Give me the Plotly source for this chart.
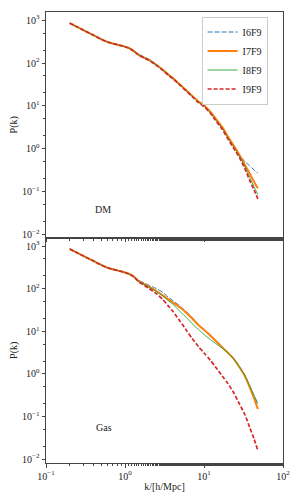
import plotly.graph_objects as go
from plotly.subplots import make_subplots

k = [0.2, 0.25, 0.3, 0.4, 0.5, 0.6, 0.7, 0.85, 1.0, 1.15, 1.3, 1.5, 1.75, 2.0, 2.5, 3.0,
     3.5, 4.0, 5.0, 6.0, 7.0, 8.5, 10, 12, 14, 17, 20, 24, 28, 33, 38, 43, 48]

dm_I6F9 = [850, 690, 580, 445, 360, 310, 285, 260, 240, 218, 192, 160, 139, 124, 94, 72,
           56, 45, 31, 23, 17.5, 12.5, 10, 7.0, 4.9, 3.0, 1.85, 1.1, 0.72, 0.5, 0.4, 0.32, 0.27]
dm_I7F9 = [850, 690, 580, 445, 360, 310, 285, 260, 240, 218, 188, 154, 133, 118, 90, 70,
           55, 45, 31, 23, 17.6, 12.7, 10.3, 7.3, 5.1, 3.2, 1.95, 1.15, 0.72, 0.42, 0.26, 0.17, 0.12]
dm_I8F9 = [850, 690, 580, 445, 360, 310, 285, 260, 240, 218, 188, 153, 132, 117, 89, 69,
           54, 44, 30.5, 22.5, 17.2, 12.3, 9.9, 7.0, 4.8, 3.0, 1.82, 1.07, 0.68, 0.38, 0.21, 0.13, 0.085]
dm_I9F9 = [850, 690, 580, 445, 360, 310, 285, 260, 240, 218, 187, 152, 131, 116, 88, 68,
           53, 43.5, 30, 22, 16.8, 12.0, 9.6, 6.8, 4.6, 2.85, 1.72, 1.0, 0.63, 0.34, 0.18, 0.11, 0.068]

gas_I6F9 = [850, 690, 580, 445, 360, 310, 285, 260, 240, 218, 192, 156, 136, 121, 100, 82,
            64, 53, 38.5, 28.5, 21.5, 14.5, 11.0, 8.2, 6.2, 4.3, 3.3, 2.25, 1.5, 0.92, 0.52, 0.31, 0.2]
gas_I7F9 = [850, 690, 580, 445, 360, 310, 285, 260, 240, 218, 190, 148, 128, 112, 88, 70,
            57, 48, 36, 27, 20.5, 14, 10.8, 8.0, 6.0, 4.2, 3.15, 2.2, 1.45, 0.88, 0.48, 0.27, 0.15]
gas_I8F9 = [850, 690, 580, 445, 360, 310, 285, 260, 240, 218, 190, 147, 126, 110, 85, 67,
            53, 44, 29, 21, 15.5, 11, 8.4, 6.4, 5.2, 4.0, 3.1, 2.2, 1.47, 0.92, 0.52, 0.31, 0.2]
gas_I9F9 = [850, 690, 580, 445, 360, 310, 285, 260, 240, 218, 188, 144, 120, 102, 76, 56,
            40, 30, 17, 10.5, 7.0, 4.4, 3.1, 2.1, 1.45, 0.9, 0.6, 0.35, 0.2, 0.11, 0.055, 0.03, 0.016]

labels = ["I6F9", "I7F9", "I8F9", "I9F9"]
colors = ["#1f77b4", "#ff7f0e", "#2ca02c", "#d62728"]
widths = [1.0, 2.0, 0.9, 1.7]
dashes = ["5px,2px", "solid", "solid", "4px,2px"]

ytickvals = [1e-2, 1e-1, 1, 10, 100, 1000]
yticktext = ["10<sup>\u22122</sup>", "10<sup>\u22121</sup>", "10<sup>0</sup>",
             "10<sup>1</sup>", "10<sup>2</sup>", "10<sup>3</sup>"]
xtickvals = [0.1, 1, 10, 100]
xticktext = ["10<sup>\u22121</sup>", "10<sup>0</sup>", "10<sup>1</sup>", "10<sup>2</sup>"]

fig = make_subplots(rows=2, cols=1, shared_xaxes=True, vertical_spacing=0)

dm = [dm_I6F9, dm_I7F9, dm_I8F9, dm_I9F9]
gas = [gas_I6F9, gas_I7F9, gas_I8F9, gas_I9F9]
for i in range(4):
    fig.add_trace(go.Scatter(x=k, y=dm[i], mode="lines", name=labels[i],
                             line=dict(color=colors[i], width=widths[i], dash=dashes[i],
                                       shape="spline", smoothing=0.6)), row=1, col=1)
for i in range(4):
    fig.add_trace(go.Scatter(x=k, y=gas[i], mode="lines", name=labels[i], showlegend=False,
                             line=dict(color=colors[i], width=widths[i], dash=dashes[i],
                                       shape="spline", smoothing=0.6)), row=2, col=1)

font = "Liberation Serif"
tf = dict(family=font, size=10, color="#222")
axis_common = dict(type="log", showgrid=False, zeroline=False, showline=True, mirror=True,
                   linecolor="#444", linewidth=1, ticks="outside", ticklen=3.5, tickwidth=0.8,
                   tickcolor="#444", tickfont=tf, automargin=False,
                   minor=dict(ticks="outside", ticklen=2, tickwidth=0.6, tickcolor="#444"))

fig.update_xaxes(range=[-1, 2], tickvals=xtickvals, ticktext=xticktext, **axis_common)
fig.update_xaxes(showticklabels=False, row=1, col=1)
fig.update_xaxes(title=dict(text="k/[h/Mpc]", font=tf, standoff=2), row=2, col=1)
fig.update_yaxes(tickvals=ytickvals, ticktext=yticktext,
                 title=dict(text="P(k)", font=tf, standoff=2), **axis_common)
fig.update_yaxes(range=[-2.07, 3.19], row=1, col=1)
fig.update_yaxes(range=[-2.09, 3.2], row=2, col=1)

fig.add_annotation(text="DM", xref="paper", yref="paper", x=0.198, y=0.561,
                   showarrow=False, font=tf)
fig.add_annotation(text="Gas", xref="paper", yref="paper", x=0.203, y=0.062,
                   showarrow=False, font=tf)

fig.update_layout(
    width=300, height=500,
    margin=dict(l=46, r=17, t=12, b=37),
    paper_bgcolor="white", plot_bgcolor="white",
    font=tf,
    legend=dict(x=0.935, y=0.99, xanchor="right", yanchor="top",
                bgcolor="rgba(255,255,255,0.8)", bordercolor="#ccc", borderwidth=1,
                font=dict(family=font, size=10, color="#222"), tracegroupgap=0, itemwidth=30),
)

fig.write_html("out.html", config={"displayModeBar": False},
               post_script="document.body.style.margin='0px';document.body.style.overflow='hidden';")
